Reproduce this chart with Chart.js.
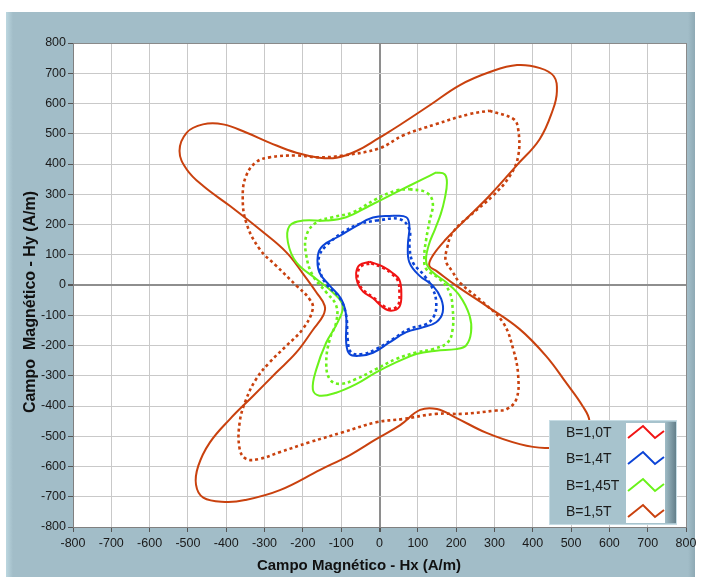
<!DOCTYPE html>
<html>
<head>
<meta charset="utf-8">
<script src="https://cdn.jsdelivr.net/npm/chart.js@4.4.1/dist/chart.umd.min.js"></script>
<style>
  html, body { margin: 0; padding: 0; background: #fff; }
  canvas { display: block; }
</style>
</head>
<body>
<canvas id="chart" width="701" height="577"></canvas>
<script>
// Loci of the magnetic field H (A/m), [Hx, Hy]
const b10Solid = [[-26,77],[9,61],[35,39],[52,17],[57,-28],[52,-72],[30,-85],[9,-74],[-17,-44],[-43,-22],[-57,6],[-61,39],[-52,66]];
const b10Dotted = [[-22,72],[9,57],[33,36],[48,14],[52,-28],[48,-68],[28,-79],[9,-68],[-17,-40],[-40,-20],[-54,6],[-57,37],[-48,62]];

const b14Solid = [[35,229],[70,224],[78,195],[74,130],[78,75],[104,31],[139,-2],[161,-46],[165,-90],[148,-123],[113,-140],[70,-156],[26,-190],[-17,-224],[-52,-234],[-78,-228],[-87,-190],[-87,-101],[-100,-46],[-130,-2],[-157,42],[-161,97],[-148,130],[-104,162],[-61,195],[-17,223]];
const b14Dotted = [[-9,213],[52,218],[78,185],[78,130],[87,75],[117,31],[139,-13],[148,-57],[143,-101],[122,-129],[78,-145],[35,-179],[-9,-212],[-43,-228],[-74,-223],[-83,-180],[-87,-101],[-104,-42],[-139,3],[-157,53],[-157,97],[-139,130],[-96,174],[-52,202]];

const b145Solid = [[148,372],[170,366],[176,338],[170,284],[160,235],[145,185],[128,130],[122,75],[139,42],[174,9],[209,-35],[235,-101],[239,-156],[226,-200],[200,-212],[148,-217],[96,-228],[43,-256],[-9,-289],[-61,-328],[-113,-356],[-157,-366],[-174,-345],[-165,-279],[-139,-190],[-109,-123],[-96,-68],[-122,-24],[-165,20],[-217,75],[-239,141],[-235,195],[-200,213],[-139,213],[-87,224],[-26,262],[43,306],[113,350]];
const b145Dotted = [[78,317],[122,306],[139,273],[130,207],[122,152],[117,97],[122,53],[157,20],[183,-24],[191,-79],[191,-145],[178,-190],[139,-212],[96,-223],[43,-245],[-9,-278],[-61,-311],[-104,-327],[-130,-311],[-139,-256],[-130,-180],[-113,-123],[-113,-68],[-139,-24],[-174,31],[-191,97],[-191,163],[-165,207],[-122,224],[-70,240],[-9,284],[43,312]];

const b15Solid = [[0,487],[-60,443],[-112,421],[-157,421],[-217,437],[-286,470],[-348,504],[-408,531],[-461,531],[-503,504],[-522,443],[-503,382],[-460,327],[-390,261],[-313,184],[-243,108],[-199,36],[-165,-24],[-143,-69],[-147,-101],[-173,-147],[-217,-223],[-270,-290],[-330,-367],[-391,-444],[-443,-521],[-473,-598],[-479,-660],[-460,-703],[-403,-717],[-351,-711],[-260,-678],[-155,-611],[-77,-562],[-12,-512],[54,-463],[106,-413],[150,-410],[200,-439],[278,-488],[366,-526],[432,-539],[495,-530],[535,-495],[548,-450],[530,-400],[487,-323],[435,-235],[365,-145],[278,-68],[200,-2],[150,45],[130,64],[139,97],[174,152],[217,207],[287,295],[357,394],[418,482],[453,581],[463,640],[455,690],[419,717],[359,727],[288,704],[210,661],[132,595],[53,529]];
const b15Dotted = [[287,576],[349,549],[362,515],[362,426],[340,360],[296,295],[235,228],[191,173],[176,120],[173,80],[190,45],[209,9],[270,-57],[322,-123],[349,-212],[362,-301],[357,-378],[331,-411],[304,-415],[217,-426],[148,-426],[61,-443],[-9,-454],[-96,-487],[-183,-520],[-261,-553],[-313,-575],[-348,-575],[-365,-542],[-365,-454],[-348,-378],[-322,-311],[-287,-256],[-243,-201],[-200,-145],[-174,-79],[-183,-46],[-217,-2],[-270,64],[-313,119],[-348,207],[-357,295],[-348,361],[-322,406],[-287,422],[-217,428],[-157,422],[-96,428],[0,452],[61,494],[148,532],[235,565]];

const legendLabels = ['B=1,0T', 'B=1,4T', 'B=1,45T', 'B=1,5T'];
const legendColors = ['#f01414', '#0c44d6', '#6af21a', '#c9410e'];

const FONT = '"Liberation Sans", Arial, sans-serif';

// close each loop by repeating the first point
function loop(points) {
    const pts = points.map(p => ({ x: p[0], y: p[1] }));
    pts.push({ x: points[0][0], y: points[0][1] });
    return pts;
}

function series(points, color, dotted) {
    return {
        data: loop(points),
        showLine: true,
        borderColor: color,
        borderWidth: dotted ? 2.6 : 2,
        borderDash: dotted ? [3, 3] : [],
        pointRadius: 0,
        tension: 0.4,
        fill: false
    };
}

const datasets = [
    series(b10Solid, legendColors[0], false),
    series(b10Dotted, legendColors[0], true),
    series(b14Solid, legendColors[1], false),
    series(b14Dotted, legendColors[1], true),
    series(b145Solid, legendColors[2], false),
    series(b145Dotted, legendColors[2], true),
    series(b15Solid, legendColors[3], false),
    series(b15Dotted, legendColors[3], true)
];

// grey-blue panel behind the plot
const panelPlugin = {
    id: 'panel',
    beforeDraw(chart) {
        const c = chart.ctx;
        const a = chart.chartArea;
        c.save();
        c.fillStyle = '#ffffff';
        c.fillRect(0, 0, 701, 577);
        c.fillStyle = '#a2bdc8';
        c.fillRect(6, 12, 689, 565);
        const gl = c.createLinearGradient(6, 0, 13, 0);
        gl.addColorStop(0, '#bcd7e0');
        gl.addColorStop(1, '#a2bdc8');
        c.fillStyle = gl;
        c.fillRect(6, 12, 7, 565);
        const gr = c.createLinearGradient(688, 0, 695, 0);
        gr.addColorStop(0, '#a2bdc8');
        gr.addColorStop(1, '#8ea9b4');
        c.fillStyle = gr;
        c.fillRect(688, 12, 7, 565);
        c.fillStyle = '#ffffff';
        c.fillRect(a.left, a.top, a.right - a.left, a.bottom - a.top);
        c.restore();
    },
    afterDraw(chart) {
        const c = chart.ctx;
        c.save();
        c.fillStyle = '#111';
        c.textAlign = 'center';
        c.textBaseline = 'middle';
        c.font = 'bold 15px ' + FONT;
        c.fillText('Campo Magnético - Hx (A/m)', 359, 566);
        c.translate(31, 302);
        c.rotate(-Math.PI / 2);
        c.font = 'bold 16px ' + FONT;
        c.fillText('Campo  Magnético - Hy (A/m)', 0, 0);
        c.restore();
    }
};

// boxed legend in the lower right corner
const legendPlugin = {
    id: 'boxLegend',
    afterDraw(chart) {
        const c = chart.ctx;
        const x0 = 549, y0 = 420, w = 128, h = 105;
        c.save();
        c.fillStyle = '#a7c3cd';
        c.fillRect(x0, y0, w, h);
        const g = c.createLinearGradient(665, 0, x0 + w, 0);
        g.addColorStop(0, '#a0bcc6');
        g.addColorStop(1, '#5e7a85');
        c.fillStyle = g;
        c.fillRect(665, y0 + 2, x0 + w - 665, h - 4);
        c.strokeStyle = '#c6dce4';
        c.lineWidth = 1;
        c.strokeRect(x0 + 0.5, y0 + 0.5, w - 1, h - 1);
        c.fillStyle = '#ffffff';
        c.fillRect(626, 423, 39, 100);

        const rows = [433, 459, 486, 512];
        c.font = '14px ' + FONT;
        c.textAlign = 'left';
        c.textBaseline = 'middle';
        legendLabels.forEach((label, i) => {
            const cy = rows[i];
            c.fillStyle = '#1b1b1b';
            c.fillText(label, 566, cy);
            c.strokeStyle = legendColors[i];
            c.lineWidth = 2;
            c.beginPath();
            c.moveTo(628, cy + 5);
            c.lineTo(643, cy - 7);
            c.lineTo(655, cy + 5);
            c.lineTo(664, cy - 2);
            c.stroke();
        });
        c.restore();
    }
};

function gridColor(ctx) {
    const v = ctx.tick.value;
    if (v === 0) return '#8e8e8e';
    if (v === 800) return '#8a8a8a';
    return '#c9c9c9';
}
function gridWidth(ctx) {
    return ctx.tick.value === 0 ? 2 : 1;
}

const tickFont = { family: FONT, size: 12.5 };

new Chart(document.getElementById('chart'), {
    type: 'scatter',
    data: { datasets },
    options: {
        responsive: false,
        animation: false,
        layout: { padding: { left: 0, right: 15, top: 43, bottom: 0 } },
        plugins: {
            legend: { display: false },
            tooltip: { enabled: false }
        },
        scales: {
            x: {
                type: 'linear',
                min: -800,
                max: 800,
                afterFit: s => { s.height = 50; },
                ticks: { stepSize: 100, autoSkip: false, maxRotation: 0, padding: 4, font: tickFont, color: '#1a1a1a' },
                grid: { color: gridColor, lineWidth: gridWidth, tickColor: '#555', tickLength: 5 },
                border: { color: '#808080', width: 1 }
            },
            y: {
                type: 'linear',
                min: -800,
                max: 800,
                afterFit: s => { s.width = 73; },
                ticks: { stepSize: 100, autoSkip: false, padding: 2, font: tickFont, color: '#1a1a1a' },
                grid: { color: gridColor, lineWidth: gridWidth, tickColor: '#555', tickLength: 5 },
                border: { color: '#808080', width: 1 }
            }
        }
    },
    plugins: [panelPlugin, legendPlugin]
});
</script>
</body>
</html>
